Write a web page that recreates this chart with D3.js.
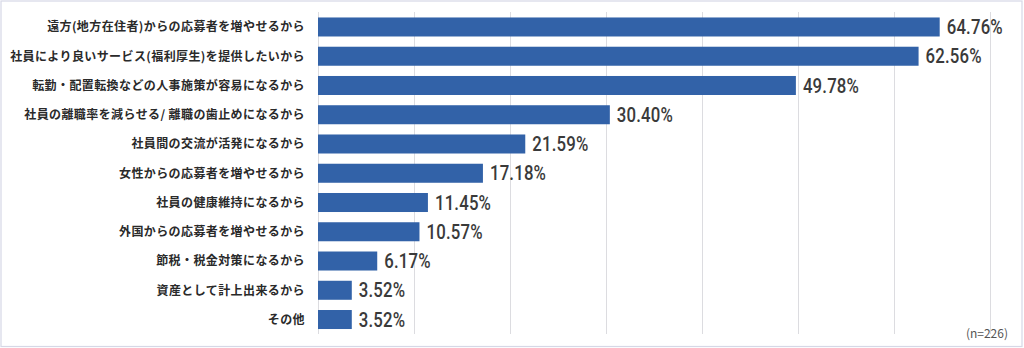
<!DOCTYPE html>
<html><head><meta charset="utf-8">
<script src="https://cdn.jsdelivr.net/npm/d3@7"></script>
<style>
html,body{margin:0;padding:0;background:#fff;}
svg{display:block;}
</style></head>
<body>
<svg id="chart" width="1024" height="348"></svg>
<script>
const categories = [
  "遠方(地方在住者)からの応募者を増やせるから",
  "社員により良いサービス(福利厚生)を提供したいから",
  "転勤・配置転換などの人事施策が容易になるから",
  "社員の離職率を減らせる/ 離職の歯止めになるから",
  "社員間の交流が活発になるから",
  "女性からの応募者を増やせるから",
  "社員の健康維持になるから",
  "外国からの応募者を増やせるから",
  "節税・税金対策になるから",
  "資産として計上出来るから",
  "その他"
];
const values = [64.76, 62.56, 49.78, 30.40, 21.59, 17.18, 11.45, 10.57, 6.17, 3.52, 3.52];
const gridTicks = [0, 10, 20, 30, 40, 50, 60, 70];
const note = "(n=226)";

const svg = d3.select("#chart");
const W = 1024, H = 348;

svg.append("rect").attr("x", 1).attr("y", 1).attr("width", W - 3).attr("height", H - 2.5)
  .attr("fill", "#fff").attr("stroke", "#d6d8e6").attr("stroke-width", 1.2);

const x = d3.scaleLinear().domain([0, 70]).range([318, 990]);
const y = d3.scaleBand().domain(categories).range([12.5, 334]).paddingInner(0.35).paddingOuter(0.17);

svg.append("g").selectAll("line").data(gridTicks).join("line")
  .attr("x1", d => Math.round(x(d)) + 0.5).attr("x2", d => Math.round(x(d)) + 0.5)
  .attr("y1", 12).attr("y2", 334)
  .attr("stroke", "#dcdce0").attr("stroke-width", 1);

svg.append("g").selectAll("rect").data(values).join("rect")
  .attr("x", x(0))
  .attr("y", (d, i) => y(categories[i]))
  .attr("width", d => x(d) - x(0))
  .attr("height", y.bandwidth())
  .attr("fill", "#3262a8");

svg.append("g").selectAll("text").data(categories).join("text")
  .attr("x", 305)
  .attr("y", d => y(d) + y.bandwidth() / 2)
  .attr("dy", "0.36em")
  .attr("text-anchor", "end")
  .attr("font-family", "'Noto Sans CJK JP', sans-serif")
  .attr("font-size", 12)
  .attr("font-weight", 600)
  .attr("letter-spacing", "0.4px")
  .attr("fill", "#2a2a2a")
  .text(d => d);

svg.append("g").selectAll("text").data(values).join("text")
  .attr("transform", (d, i) => `translate(${x(d) + 7},${y(categories[i]) + y.bandwidth() / 2}) scale(0.84,1)`)
  .attr("dy", "0.36em")
  .attr("font-family", "Roboto, sans-serif")
  .attr("font-size", 20)
  .attr("font-weight", 500)
  .attr("letter-spacing", "0.2px")
  .attr("fill", "#3a3a3a")
  .text(d => d.toFixed(2) + "%");

svg.append("text")
  .attr("x", 1008).attr("y", 338)
  .attr("text-anchor", "end")
  .attr("font-family", "'Noto Sans CJK JP', sans-serif")
  .attr("font-size", 12)
  .attr("fill", "#555")
  .text(note);
</script>
</body></html>
